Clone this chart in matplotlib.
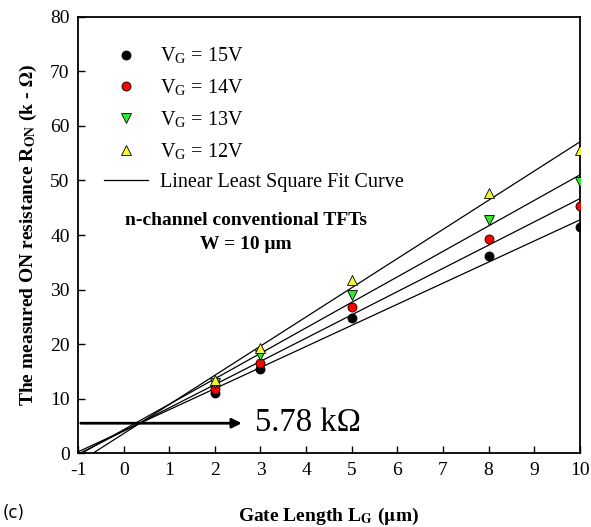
import numpy as np
import matplotlib
matplotlib.use('Agg')
import matplotlib.pyplot as plt
from matplotlib.lines import Line2D

plt.rcParams['font.family'] = ['Liberation Serif', 'DejaVu Serif']
plt.rcParams['mathtext.fontset'] = 'stix'
plt.rcParams['axes.unicode_minus'] = False

# gate lengths (um) and measured R_ON (k-ohm) for each gate voltage
gate_length = [2, 3, 5, 8, 10]
r_vg15 = [11.0, 15.4, 24.8, 36.1, 41.5]
r_vg14 = [11.7, 16.5, 26.8, 39.3, 45.3]
r_vg13 = [12.8, 18.0, 29.0, 42.8, 49.7]
r_vg12 = [13.4, 19.3, 31.7, 47.7, 55.6]
vg_labels = ['15V', '14V', '13V', '12V']
contact_r = 5.78

series = [r_vg15, r_vg14, r_vg13, r_vg12]
colors = ['black', 'red', '#2ee82e', '#f5f53a']
markers = ['o', 'o', 'v', '^']

fig = plt.figure(figsize=(5.91, 5.27), dpi=100)
ax = fig.add_axes([0.132, 0.140, 0.849, 0.828])

xfit = np.linspace(-1, 10, 200)
handles = []
for vals, c, m, lab in zip(series, colors, markers, vg_labels):
    k, b = np.polyfit(gate_length, vals, 1)
    ax.plot(xfit, k * xfit + b, color='black', lw=0.9, zorder=2)
    ax.plot(gate_length, vals, linestyle='none', marker=m, markersize=6.5,
            markerfacecolor=c, markeredgecolor='black', markeredgewidth=0.6, zorder=3)
    handles.append(Line2D([], [], linestyle='none', marker=m, markersize=6.5,
                          markerfacecolor=c, markeredgecolor='black',
                          markeredgewidth=0.6,
                          label=r'V$_\mathregular{G}$ = ' + lab))
handles.append(Line2D([], [], color='black', lw=0.9,
                      label='Linear Least Square Fit Curve'))

leg = ax.legend(handles=handles, loc='upper left', bbox_to_anchor=(0.015, 0.975),
                frameon=False, fontsize=14.5, handlelength=2.2, handletextpad=0.6,
                labelspacing=0.55)

ax.text(2.68, 42.7, 'n-channel conventional TFTs', fontsize=14,
        fontweight='bold', ha='center', va='center')
ax.text(2.68, 38.2, 'W = 10 \u03bcm', fontsize=14, fontweight='bold',
        ha='center', va='center')

ax.annotate('', xy=(2.65, 5.5), xytext=(-1, 5.5),
            arrowprops=dict(arrowstyle='-|>', color='black', lw=2,
                            mutation_scale=14))
ax.text(2.88, 5.5, '%.2f k\u03a9' % contact_r, fontsize=23.5, va='center', ha='left')

ax.set_xlim(-1, 10)
ax.set_ylim(0, 80)
ax.set_xticks(range(-1, 11))
ax.set_yticks(range(0, 81, 10))
ax.tick_params(direction='in', labelsize=14, length=5, width=1, pad=6)
for s in ax.spines.values():
    s.set_linewidth(1.3)

ax.set_xlabel(r'Gate Length L$_\mathbf{G}$ ($\mathbf{\mu}$m)', fontsize=14,
              fontweight='bold', labelpad=20)
ax.set_ylabel(r'The measured ON resistance R$_\mathbf{ON}$ (k - $\mathbf{\Omega}$)',
              fontsize=14, fontweight='bold', labelpad=8)

fig.text(0.005, 0.018, '(c)', fontsize=12, family='DejaVu Sans')

fig.savefig('out.png', dpi=100)
